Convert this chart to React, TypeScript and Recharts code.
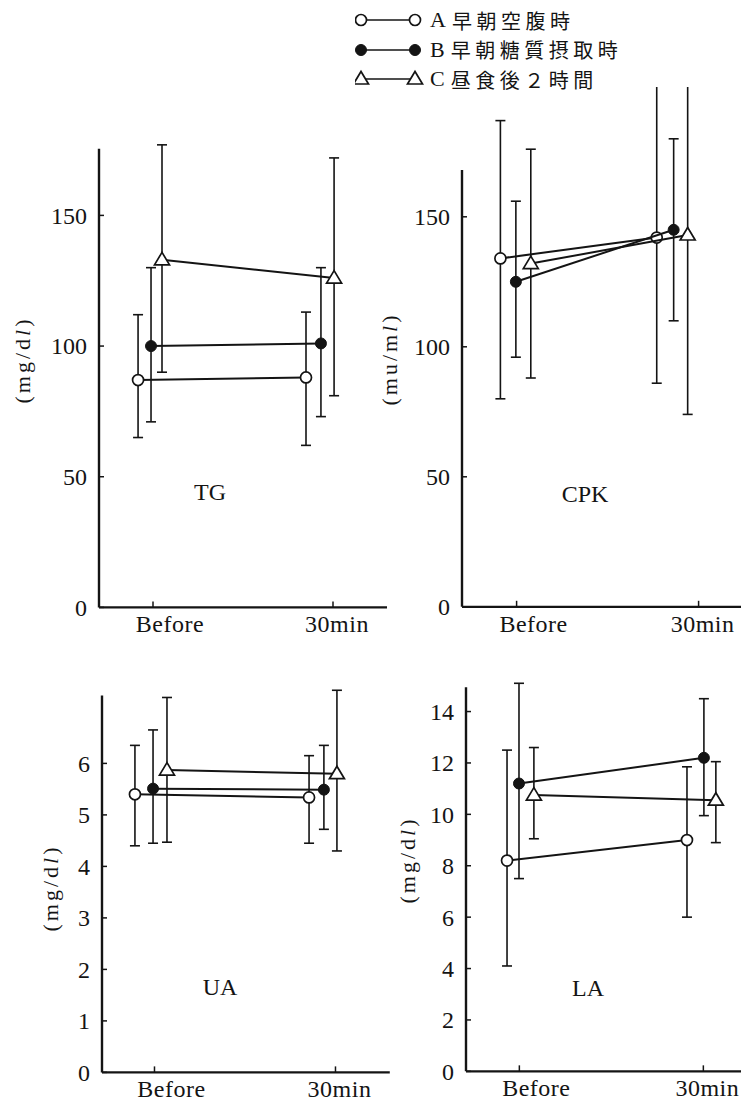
import React from "react";
import { ScatterChart, Scatter, XAxis, YAxis, ErrorBar, ReferenceLine } from "recharts";

// time points on the x axis
const timePoints = ["Before", "30min"];
// groups (legend)
const groupLetters = ["A", "B", "C"];
const groupLabels = ["早朝空腹時", "早朝糖質摂取時", "昼食後２時間"];

// each entry: [mean, upper end of bar, lower end of bar] for Before, 30min
const tgA = [[87, 112, 65], [88, 113, 62]];
const tgB = [[100, 130, 71], [101, 130, 73]];
const tgC = [[133, 177, 90], [126, 172, 81]];

const cpkA = [[134, 187, 80], [142, 205, 86]];
const cpkB = [[125, 156, 96], [145, 180, 110]];
const cpkC = [[132, 176, 88], [143, 210, 74]];

const uaA = [[5.4, 6.35, 4.4], [5.34, 6.15, 4.45]];
const uaB = [[5.51, 6.65, 4.45], [5.49, 6.35, 4.72]];
const uaC = [[5.87, 7.28, 4.47], [5.8, 7.42, 4.3]];

const laA = [[8.2, 12.5, 4.1], [9.0, 11.85, 6.0]];
const laB = [[11.2, 15.1, 7.5], [12.2, 14.5, 9.95]];
const laC = [[10.75, 12.6, 9.05], [10.55, 12.05, 8.9]];

// small horizontal jitter of each group at Before / 30min (x units)
const tgShift = [[-0.083, -0.15], [-0.011, -0.067], [0.05, 0.006]];
const cpkShift = [[-0.089, -0.23], [-0.004, -0.137], [0.078, -0.06]];
const uaShift = [[-0.108, -0.146], [-0.008, -0.064], [0.069, 0.008]];
const laShift = [[-0.067, -0.089], [-0.002, 0.003], [0.079, 0.068]];

// y ticks
const tgTicks = [0, 50, 100, 150];
const cpkTicks = [0, 50, 100, 150];
const uaTicks = [0, 1, 2, 3, 4, 5, 6];
const laTicks = [0, 2, 4, 6, 8, 10, 12, 14];

const INK = "#141414";
const SERIF = "'Liberation Serif', 'DejaVu Serif', 'Noto Sans CJK JP', serif";

const toRows = (vals: number[][], shift: number[]) =>
  vals.map(([m, hi, lo], i) => ({ x: i + shift[i], y: m, err: [m - lo, hi - m] }));

const OpenCircle = (props: any) => (
  <circle cx={props.cx} cy={props.cy} r={5.5} fill="#fff" stroke={INK} strokeWidth={1.7} />
);
const FilledCircle = (props: any) => (
  <circle cx={props.cx} cy={props.cy} r={5.5} fill={INK} stroke={INK} strokeWidth={1} />
);
const Triangle = (props: any) => {
  const { cx, cy } = props;
  return (
    <polygon
      points={`${cx},${cy - 7.5} ${cx - 7.5},${cy + 5} ${cx + 7.5},${cy + 5}`}
      fill="#fff"
      stroke={INK}
      strokeWidth={1.7}
    />
  );
};
const markers = [OpenCircle, FilledCircle, Triangle];

const XTick = (props: any) => {
  const { x, y, payload } = props;
  const shift = payload.value === 0 ? 17 : 4;
  return (
    <text
      x={x + shift}
      y={y}
      dy="0.71em"
      textAnchor="middle"
      fill={INK}
      style={{ fontFamily: SERIF, fontSize: 24, letterSpacing: 0.5 }}
    >
      {timePoints[payload.value]}
    </text>
  );
};

const YTick = (props: any) => {
  const { x, y, payload } = props;
  return (
    <text
      x={x}
      y={y}
      dy="0.35em"
      textAnchor="end"
      fill={INK}
      style={{ fontFamily: SERIF, fontSize: 24 }}
    >
      {payload.value}
    </text>
  );
};

const Y_AXIS_W = 70;
const X_AXIS_H = 45;
const TOP_PAD = 5;

interface IPanelProps {
  series: number[][][];
  shifts: number[][];
  ticks: number[];
  plotLeft: number;
  plotBottom: number;
  xPx: number;
  xMin: number;
  xMax: number;
  yPx: number;
  yTop: number;
  axisTop: number;
}

const Panel: React.FunctionComponent<IPanelProps> = (p) => {
  const plotW = (p.xMax - p.xMin) * p.xPx;
  const plotH = p.yTop * p.yPx;
  const left = p.plotLeft - Y_AXIS_W;
  const top = p.plotBottom - plotH - TOP_PAD;
  return (
    <div style={{ position: "absolute", left, top }}>
      <ScatterChart
        width={Y_AXIS_W + plotW}
        height={TOP_PAD + plotH + X_AXIS_H}
        margin={{ top: TOP_PAD, right: 0, bottom: 0, left: 0 }}
      >
        <XAxis
          type="number"
          dataKey="x"
          domain={[p.xMin, p.xMax]}
          allowDataOverflow
          ticks={[0, 1]}
          interval={0}
          height={X_AXIS_H}
          axisLine={{ stroke: INK, strokeWidth: 2.2 }}
          tickLine={{ stroke: INK, strokeWidth: 1.5 }}
          tickSize={-6}
          tickMargin={14}
          tick={(props: any) => <XTick {...props} />}
        />
        <YAxis
          type="number"
          dataKey="y"
          domain={[0, p.yTop]}
          allowDataOverflow
          ticks={p.ticks}
          interval={0}
          width={Y_AXIS_W}
          axisLine={false}
          tickLine={{ stroke: INK, strokeWidth: 1.5 }}
          tickSize={-5}
          tickMargin={17}
          tick={(props: any) => <YTick {...props} />}
        />
        <ReferenceLine
          segment={[
            { x: p.xMin, y: 0 },
            { x: p.xMin, y: p.axisTop },
          ]}
          stroke={INK}
          strokeWidth={2.4}
          ifOverflow="visible"
        />
        {p.series.map((vals, s) => (
          <Scatter
            key={s}
            name={groupLetters[s]}
            data={toRows(vals, p.shifts[s])}
            fill={INK}
            line={{ stroke: INK, strokeWidth: 2 }}
            shape={markers[s]}
            isAnimationActive={false}
          >
            <ErrorBar
              dataKey="err"
              direction="y"
              width={5}
              stroke={INK}
              strokeWidth={1.6}
              isAnimationActive={false}
            />
          </Scatter>
        ))}
      </ScatterChart>
    </div>
  );
};

const textAt = (x: number, y: number, rotate = 0): React.CSSProperties => ({
  position: "absolute",
  left: x,
  top: y,
  transform: `translate(-50%, -50%) rotate(${rotate}deg)`,
  whiteSpace: "nowrap",
  fontFamily: SERIF,
  color: INK,
  lineHeight: 1,
});

const UnitLabel = ({ x, y, unit }: { x: number; y: number; unit: string }) => (
  <div style={{ ...textAt(x, y, -90), fontSize: 22, letterSpacing: 3 }}>
    ({unit}
    <i>l</i>)
  </div>
);

const LegendIcon = ({ kind }: { kind: number }) => {
  const M = markers[kind];
  return (
    <svg width={72} height={20} style={{ display: "block" }}>
      <line x1={6} y1={10} x2={60} y2={10} stroke={INK} strokeWidth={1.6} />
      <M cx={6} cy={10} />
      <M cx={60} cy={10} />
    </svg>
  );
};

const legendY = [20, 49.5, 79];

export default function App() {
  return (
    <div
      style={{
        position: "absolute",
        left: 0,
        top: 0,
        width: 741,
        height: 1105,
        overflow: "hidden",
        background: "#fff",
      }}
    >
      {groupLetters.map((g, i) => (
        <div
          key={g}
          style={{
            position: "absolute",
            left: 355,
            top: legendY[i] - 12,
            height: 24,
            display: "flex",
            alignItems: "center",
            color: INK,
            fontFamily: SERIF,
            whiteSpace: "nowrap",
          }}
        >
          <LegendIcon kind={i} />
          <span style={{ fontSize: 22, marginLeft: 3 }}>{g}</span>
          <span style={{ fontSize: 20, letterSpacing: 4.5, marginLeft: 6 }}>{groupLabels[i]}</span>
        </div>
      ))}

      <Panel
        series={[tgA, tgB, tgC]}
        shifts={tgShift}
        ticks={tgTicks}
        plotLeft={99}
        plotBottom={607}
        xPx={180}
        xMin={-0.3}
        xMax={1.3}
        yPx={2.6133}
        yTop={180}
        axisTop={175.5}
      />
      <Panel
        series={[cpkA, cpkB, cpkC]}
        shifts={cpkShift}
        ticks={cpkTicks}
        plotLeft={462}
        plotBottom={607}
        xPx={182}
        xMin={-0.3}
        xMax={1.3}
        yPx={2.6}
        yTop={198}
        axisTop={168}
      />
      <Panel
        series={[uaA, uaB, uaC]}
        shifts={uaShift}
        ticks={uaTicks}
        plotLeft={102}
        plotBottom={1072}
        xPx={181}
        xMin={-0.29}
        xMax={1.3}
        yPx={51.5}
        yTop={7.6}
        axisTop={7.32}
      />
      <Panel
        series={[laA, laB, laC]}
        shifts={laShift}
        ticks={laTicks}
        plotLeft={465.5}
        plotBottom={1071}
        xPx={184}
        xMin={-0.29}
        xMax={1.3}
        yPx={25.7}
        yTop={15.5}
        axisTop={14.95}
      />

      <div style={{ ...textAt(210, 492), fontSize: 24 }}>TG</div>
      <div style={{ ...textAt(585, 494), fontSize: 24 }}>CPK</div>
      <div style={{ ...textAt(220, 987), fontSize: 24 }}>UA</div>
      <div style={{ ...textAt(588, 988), fontSize: 24 }}>LA</div>

      <UnitLabel x={23} y={360} unit="mg/d" />
      <UnitLabel x={390} y={359} unit="mu/m" />
      <UnitLabel x={51} y={888} unit="mg/d" />
      <UnitLabel x={408} y={860} unit="mg/d" />
    </div>
  );
}
